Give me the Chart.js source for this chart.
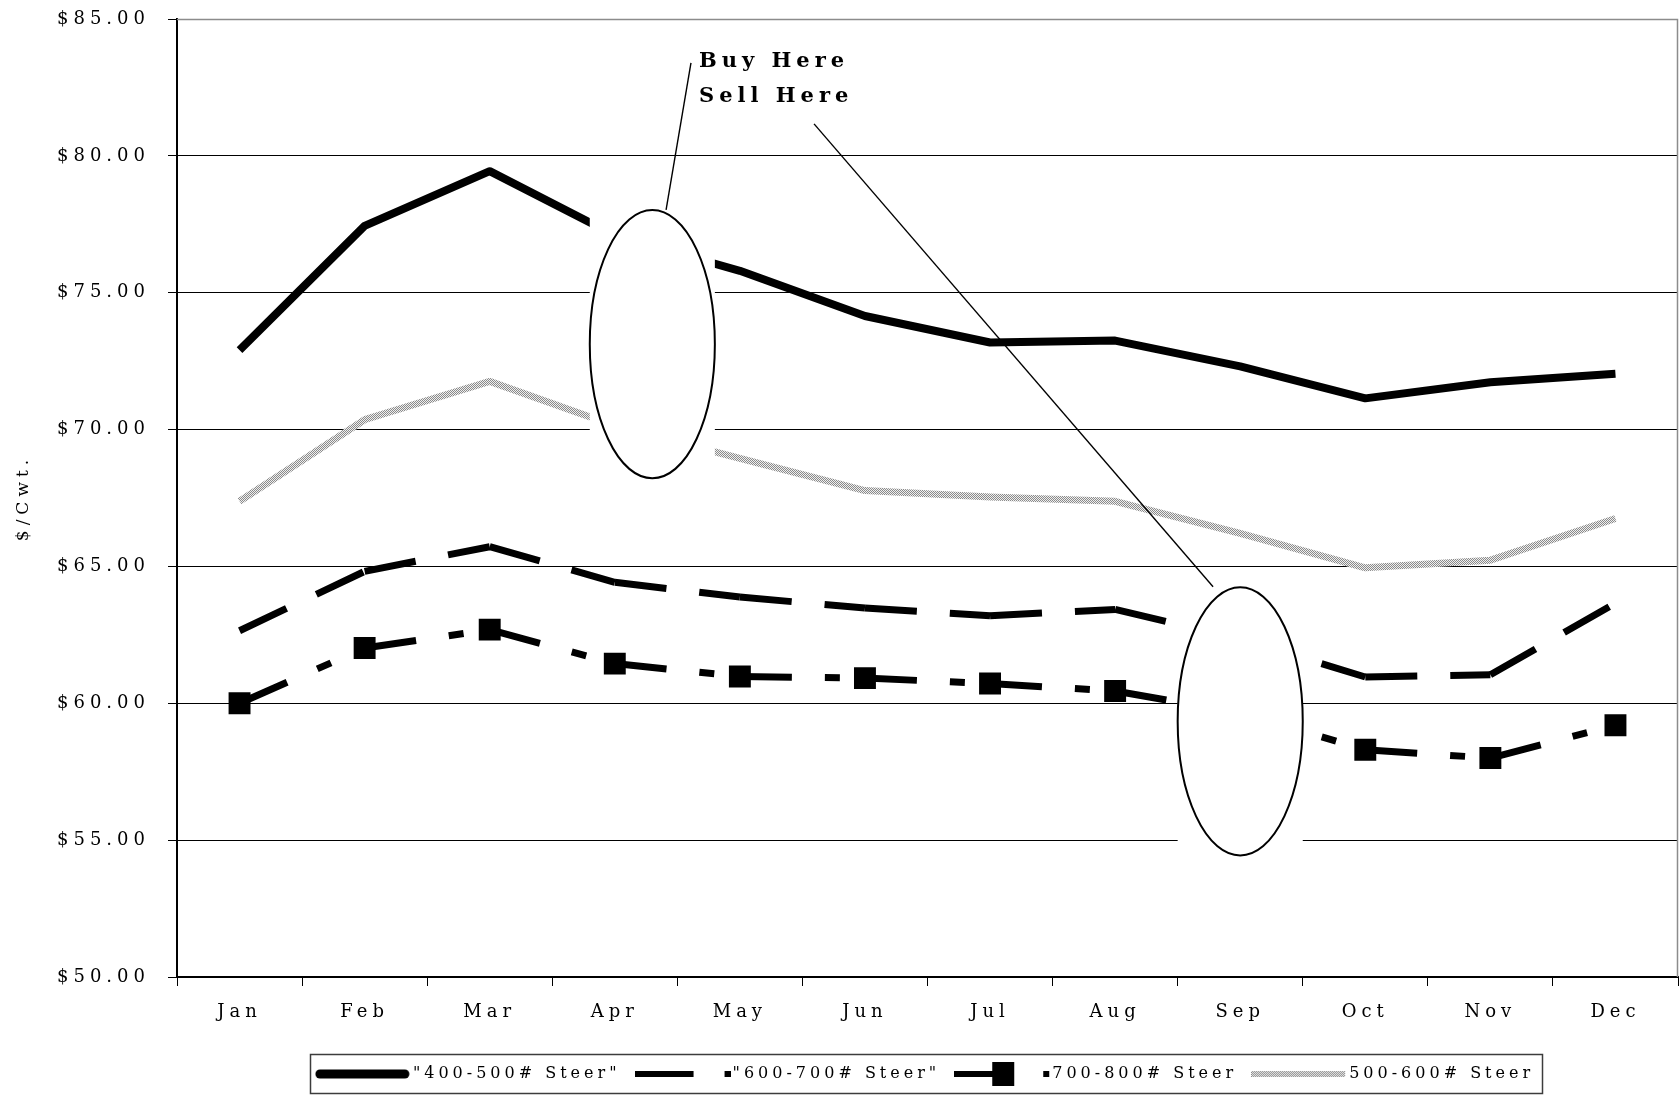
<!DOCTYPE html>
<html>
<head>
<meta charset="utf-8">
<script src="https://cdn.jsdelivr.net/npm/chart.js@4/dist/chart.umd.min.js"></script>
<style>
  html, body { margin: 0; padding: 0; background: #fff; }
  canvas { display: block; }
</style>
</head>
<body>
<canvas id="steerChart" width="1680" height="1095"></canvas>
<script>
// Monthly feeder steer prices, $/cwt
const months = ['Jan', 'Feb', 'Mar', 'Apr', 'May', 'Jun', 'Jul', 'Aug', 'Sep', 'Oct', 'Nov', 'Dec'];
const steer400to500 = [72.90, 77.44, 79.44, 77.10, 75.80, 74.15, 73.18, 73.25, 72.31, 71.14, 71.73, 72.04];
const steer600to700 = [62.65, 64.82, 65.72, 64.42, 63.88, 63.48, 63.20, 63.43, 62.35, 60.96, 61.04, 63.66];
const steer700to800 = [60.00, 62.02, 62.69, 61.45, 60.98, 60.92, 60.72, 60.45, 59.65, 58.30, 58.00, 59.20];
const steer500to600 = [67.38, 70.36, 71.76, 70.14, 68.95, 67.77, 67.54, 67.38, 66.21, 64.95, 65.23, 66.75];
const seriesNames = ['"400-500# Steer"', '"600-700# Steer"', '700-800# Steer', '500-600# Steer'];
const yMin = 50, yMax = 85, yStep = 5;
const yTitle = '$/Cwt.';
const calloutLines = ['Buy Here', 'Sell Here'];

// Callout geometry in axis units (category index, $/cwt)
const ovals = [
  { at: 3.30, value: 73.12, halfWidth: 0.5, halfHeight: 4.9 },
  { at: 8.00, value: 59.34, halfWidth: 0.5, halfHeight: 4.9 }
];
const leaders = [
  { from: [3.41, 78.03], to: [3.609, 83.40] },
  { from: [4.593, 81.17], to: [7.783, 64.26] }
];
const calloutText = { at: 3.673, baselines: [83.26, 81.98] };

const SPACING = '5px';

function ditherPattern(ctx) {
  const c = document.createElement('canvas');
  c.width = 2; c.height = 2;
  const g = c.getContext('2d');
  g.fillStyle = '#efefef'; g.fillRect(0, 0, 2, 2);
  g.fillStyle = '#8a8a8a'; g.fillRect(0, 0, 1, 1); g.fillRect(1, 1, 1, 1);
  return ctx.createPattern(c, 'repeat');
}

const canvas = document.getElementById('steerChart');
const grayLine = ditherPattern(canvas.getContext('2d'));

// Legend keys
function swatch(drawFn) {
  const c = document.createElement('canvas');
  c.width = 96; c.height = 28;
  const g = c.getContext('2d');
  drawFn(g);
  return c;
}
const swatches = [
  swatch(g => { g.strokeStyle = '#000'; g.lineWidth = 9; g.lineCap = 'round';
    g.beginPath(); g.moveTo(5, 14); g.lineTo(90, 14); g.stroke(); }),
  swatch(g => { g.fillStyle = '#000'; g.fillRect(0, 11, 59, 6); g.fillRect(90, 11, 6, 6); }),
  swatch(g => { g.fillStyle = '#000'; g.fillRect(0, 11, 48, 6); g.fillRect(38, 2, 22, 24); g.fillRect(89, 11, 6, 6); }),
  swatch(g => { g.fillStyle = ditherPattern(g); g.fillRect(0, 11, 94, 6); })
];

// restart the dash pattern at every month
const perSegment = { borderDashOffset: c => (c.p0DataIndex % 2) * 0.001 };

const annotations = {
  id: 'annotations',
  afterDatasetsDraw(chart) {
    const { ctx } = chart;
    const xs = chart.scales.x, ys = chart.scales.y;
    const cw = xs.getPixelForValue(1) - xs.getPixelForValue(0);
    ctx.save();
    for (const o of ovals) {
      const cx = xs.getPixelForValue(o.at), cy = ys.getPixelForValue(o.value);
      const rx = o.halfWidth * cw;
      const ry = Math.abs(ys.getPixelForValue(o.value + o.halfHeight) - cy);
      ctx.fillStyle = '#fff';
      ctx.fillRect(cx - rx, cy - ry, 2 * rx, 2 * ry);
      ctx.beginPath();
      ctx.ellipse(cx, cy, rx, ry, 0, 0, Math.PI * 2);
      ctx.lineWidth = 2;
      ctx.strokeStyle = '#000';
      ctx.stroke();
    }
    ctx.lineWidth = 1.4;
    for (const l of leaders) {
      ctx.beginPath();
      ctx.moveTo(xs.getPixelForValue(l.from[0]), ys.getPixelForValue(l.from[1]));
      ctx.lineTo(xs.getPixelForValue(l.to[0]), ys.getPixelForValue(l.to[1]));
      ctx.stroke();
    }
    ctx.letterSpacing = SPACING;
    ctx.font = 'bold 21px "DejaVu Serif"';
    ctx.fillStyle = '#000';
    ctx.textAlign = 'left';
    ctx.textBaseline = 'alphabetic';
    calloutLines.forEach((t, i) => {
      ctx.fillText(t, xs.getPixelForValue(calloutText.at), ys.getPixelForValue(calloutText.baselines[i]));
    });
    ctx.restore();
  },
  beforeDatasetsDraw(chart) {
    const { ctx, chartArea: a } = chart;
    ctx.save();
    ctx.strokeStyle = '#8c8c8c';
    ctx.lineWidth = 1.5;
    ctx.beginPath();
    ctx.moveTo(a.left, a.top + 0.5);
    ctx.lineTo(a.right - 0.5, a.top + 0.5);
    ctx.lineTo(a.right - 0.5, a.bottom);
    ctx.stroke();
    ctx.restore();
  }
};

const textSpacing = {
  id: 'textSpacing',
  beforeUpdate(chart) {
    chart.ctx.letterSpacing = SPACING;
    const lg = chart.legend;
    if (lg && !lg._spaced) {
      lg._spaced = true;
      for (const m of ['update', 'draw']) {
        const orig = lg[m].bind(lg);
        lg[m] = function (...args) {
          const prev = chart.ctx.letterSpacing;
          chart.ctx.letterSpacing = '4px';
          const r = orig(...args);
          chart.ctx.letterSpacing = prev;
          return r;
        };
      }
    }
  },
  beforeDraw(chart) { chart.ctx.letterSpacing = SPACING; },
  afterDraw(chart) {
    const lg = chart.legend;
    if (!lg || !lg.legendHitBoxes || !lg.legendHitBoxes.length) return;
    const hb = lg.legendHitBoxes;
    const last = hb[hb.length - 1];
    const left = hb[0].left - 11;
    const right = last.left + last.width + 8;
    const cy = hb[0].top + hb[0].height / 2;
    const { ctx } = chart;
    ctx.save();
    ctx.strokeStyle = '#3c3c3c';
    ctx.lineWidth = 1.5;
    ctx.strokeRect(Math.round(left) + 0.5, Math.round(cy - 20) + 0.5, Math.round(right - left), 39);
    ctx.restore();
  }
};

new Chart(canvas, {
  type: 'line',
  data: {
    labels: months,
    datasets: [
      { label: seriesNames[0], data: steer400to500, borderColor: '#000', borderWidth: 8,
        borderJoinStyle: 'round', pointRadius: 0, tension: 0 },
      { label: seriesNames[1], data: steer600to700, borderColor: '#000', borderWidth: 7,
        borderDash: [52, 33], borderCapStyle: 'butt', borderJoinStyle: 'miter',
        segment: perSegment, pointRadius: 0, tension: 0 },
      { label: seriesNames[2], data: steer700to800, borderColor: '#000', borderWidth: 7,
        borderDash: [52, 33, 15, 33], borderCapStyle: 'butt', borderJoinStyle: 'miter',
        segment: perSegment, pointStyle: 'rect', pointRadius: 15.5,
        pointBackgroundColor: '#000', pointBorderColor: '#000', pointBorderWidth: 0, tension: 0 },
      { label: seriesNames[3], data: steer500to600, borderColor: grayLine, borderWidth: 7,
        borderJoinStyle: 'round', pointRadius: 0, tension: 0 }
    ]
  },
  options: {
    responsive: false,
    animation: false,
    events: [],
    layout: { autoPadding: false, padding: { top: 19, right: 2, bottom: 3, left: 0 } },
    plugins: {
      tooltip: { enabled: false },
      legend: {
        position: 'bottom',
        fullSize: false,
        align: 'center',
        labels: {
          usePointStyle: true,
          pointStyleWidth: 84,
          boxHeight: 16,
          padding: 20,
          color: '#000',
          font: { family: 'DejaVu Serif', size: 16 },
          generateLabels: chart => chart.data.datasets.map((ds, i) => ({
            text: ds.label, pointStyle: swatches[i], fillStyle: '#000', strokeStyle: '#000',
            lineWidth: 0, hidden: false, datasetIndex: i, fontColor: '#000'
          }))
        }
      }
    },
    scales: {
      x: {
        offset: true,
        afterFit: s => { s.height = 69; s.paddingLeft = 0; s.paddingRight = 0; },
        grid: { offset: true, drawOnChartArea: false, drawTicks: true, tickLength: 9, color: '#000' },
        border: { color: '#000', width: 2 },
        ticks: { color: '#000', padding: 16, maxRotation: 0, font: { family: 'DejaVu Serif', size: 18 } }
      },
      y: {
        min: yMin, max: yMax,
        afterFit: s => { s.width = 177; s.paddingTop = 0; s.paddingBottom = 0; },
        grid: { color: c => (c.tick && c.tick.value === yMax ? '#8c8c8c' : '#000'), tickColor: '#000',
                lineWidth: 1, drawTicks: true, tickLength: 9 },
        border: { color: '#000', width: 2 },
        ticks: { stepSize: yStep, color: '#000', padding: 18,
                 font: { family: 'DejaVu Serif', size: 18 },
                 callback: v => '$' + Number(v).toFixed(2) },
        title: { display: true, text: yTitle, color: '#000', padding: { top: 13, bottom: 0 },
                 font: { family: 'DejaVu Serif', size: 17 } }
      }
    }
  },
  plugins: [textSpacing, annotations]
});
</script>
</body>
</html>
